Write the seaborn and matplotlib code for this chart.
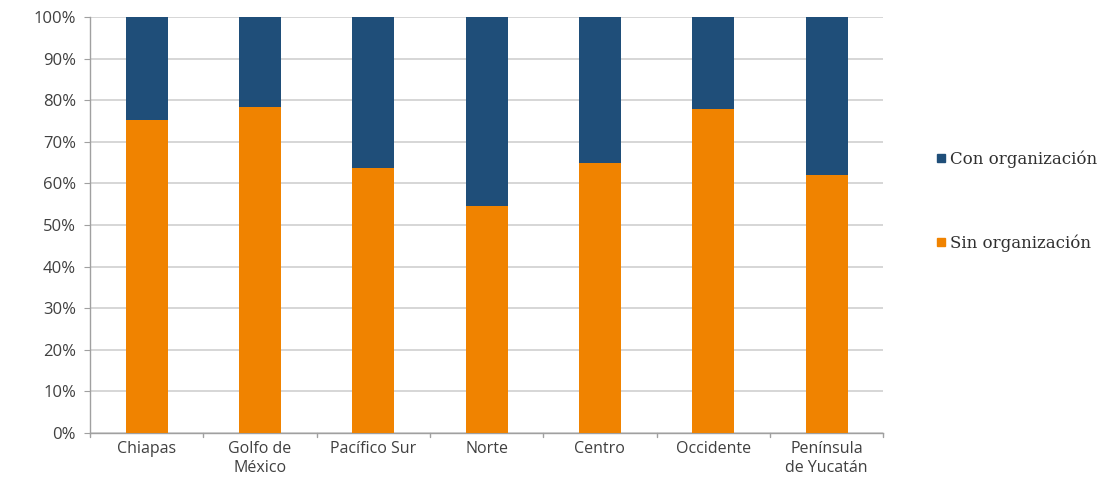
import pandas as pd
import matplotlib as mpl
from matplotlib import pyplot as plt
from matplotlib.lines import Line2D
import seaborn as sns

# values (percent)
regions = ['Chiapas', 'Golfo de\nMéxico', 'Pacífico Sur', 'Norte',
           'Centro', 'Occidente', 'Península\nde Yucatán']
sin_org = [75.2, 78.4, 63.6, 54.6, 64.8, 78.0, 62.0]
con_org = [100 - v for v in sin_org]
series_names = ['Con organización', 'Sin organización']
y_ticks = [0, 10, 20, 30, 40, 50, 60, 70, 80, 90, 100]

blue = '#1F4E79'
orange = '#F08300'

data = pd.DataFrame({'region': regions, 'sin': sin_org, 'con': con_org})
data['total'] = data['sin'] + data['con']

sns.set_style('white')
plt.rcParams['font.family'] = ['Open Sans', 'DejaVu Sans']

fig = plt.figure(figsize=(11.18, 5), dpi=100)
ax = fig.add_axes([0.0805, 0.134, 0.7095, 0.832])

# stacked: draw the total in blue, then the bottom part in orange over it
sns.barplot(data=data, x='region', y='total', color=blue, width=0.37,
            saturation=1, linewidth=0, ax=ax, zorder=3)
sns.barplot(data=data, x='region', y='sin', color=orange, width=0.37,
            saturation=1, linewidth=0, ax=ax, zorder=4)

ax.set_ylim(0, 100)
ax.set_xlim(-0.5, len(regions) - 0.5)
ax.set_yticks(y_ticks)
ax.set_yticklabels([f'{t}%' for t in y_ticks], color='#404040', fontsize=12)
ax.tick_params(axis='x', labelsize=11.5, labelcolor='#404040', length=0, pad=6)
ax.tick_params(axis='y', length=4, color='#A0A0A0', left=True, pad=6)
ax.set_xlabel('')
ax.set_ylabel('')

ax.grid(axis='y', color='#D0D0D0', linewidth=1.2, zorder=0)
ax.set_axisbelow(True)
for side in ['top', 'right']:
    ax.spines[side].set_visible(False)
for side in ['left', 'bottom']:
    ax.spines[side].set_color('#A0A0A0')
    ax.spines[side].set_linewidth(1)

# small ticks between categories on the x axis
for b in range(len(regions) + 1):
    ax.plot([b - 0.5, b - 0.5], [0, -1], color='#A0A0A0', lw=1,
            clip_on=False, zorder=2)

handles = [Line2D([0], [0], marker='s', linestyle='', markersize=6,
                  markerfacecolor=c, markeredgecolor=c)
           for c in [blue, orange]]
fig.legend(handles, series_names, loc='center left',
           bbox_to_anchor=(0.822, 0.598), frameon=False,
           labelspacing=4.0, handletextpad=0.15, handlelength=0.8,
           labelcolor='#303030', prop={'family': 'DejaVu Serif', 'size': 12})

fig.savefig('out.png', dpi=100)
